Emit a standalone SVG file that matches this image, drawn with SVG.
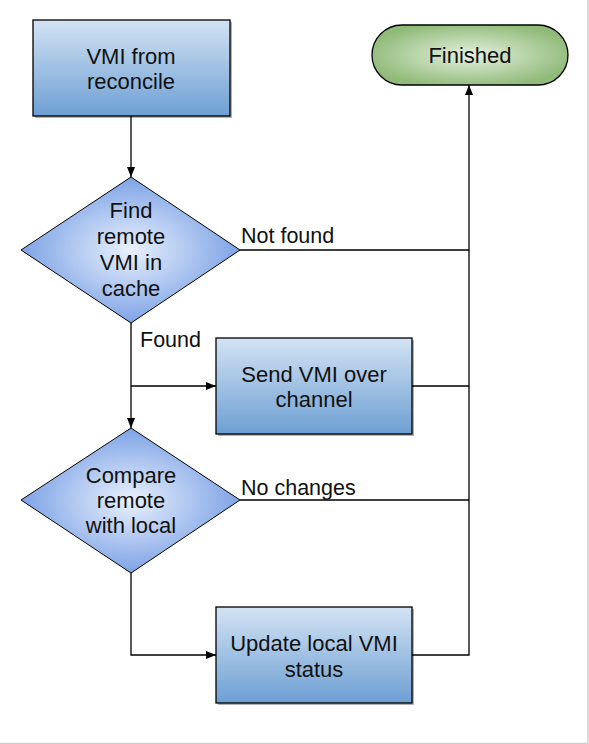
<svg xmlns="http://www.w3.org/2000/svg" width="589" height="744" viewBox="0 0 589 744">
<defs>
<linearGradient id="gBox" x1="0" y1="0" x2="0" y2="1">
<stop offset="0" stop-color="#d3e3f4"/>
<stop offset="1" stop-color="#6d9fd3"/>
</linearGradient>
<radialGradient id="gDia" cx="0.5" cy="0.5" r="0.5">
<stop offset="0" stop-color="#e9f1fd"/>
<stop offset="1" stop-color="#7ea3e6"/>
</radialGradient>
<radialGradient id="gFin" cx="0.5" cy="0.5" r="0.55">
<stop offset="0" stop-color="#e6f0df"/>
<stop offset="1" stop-color="#8fba78"/>
</radialGradient>
<marker id="arr" viewBox="0 0 10 10" refX="10" refY="5" markerWidth="10" markerHeight="10" markerUnits="userSpaceOnUse" orient="auto">
<path d="M0,1 L10,5 L0,9 z" fill="#000"/>
</marker>
</defs>
<style>
.box{fill:url(#gBox);stroke:#000;stroke-width:1.3}
.dia{fill:url(#gDia);stroke:#000;stroke-width:1}
.fin{fill:url(#gFin);stroke:#000;stroke-width:1.3}
.sh{fill:#000;opacity:0.3}
text{font-family:"Liberation Sans",Arial,sans-serif;font-size:22px;fill:#111;text-anchor:middle}
.lbl{text-anchor:start;font-size:21.5px}
.c{fill:none;stroke:#000;stroke-width:1.3}
</style>
<rect x="0" y="0" width="589" height="744" fill="#fff"/>
<path d="M588,0 V743.5 H0" fill="none" stroke="#d0d0d0" stroke-width="1.5"/>
<g id="connectors">
<path class="c" d="M131,116 V177" marker-end="url(#arr)"/>
<path class="c" d="M131,323 V428" marker-end="url(#arr)"/>
<path class="c" d="M131,386 H216" marker-end="url(#arr)"/>
<path class="c" d="M131,573 V655 H216" marker-end="url(#arr)"/>
<path class="c" d="M240,250 H469"/>
<path class="c" d="M412,386 H469"/>
<path class="c" d="M240,500 H469"/>
<path class="c" d="M412,655 H469 V85" marker-end="url(#arr)"/>
<text class="lbl" x="241" y="243">Not found</text>
<text class="lbl" x="140" y="347">Found</text>
<text class="lbl" x="241" y="495">No changes</text>
</g>
<g id="reconcile">
<rect class="sh" x="35" y="22" width="197" height="96"/>
<rect class="box" x="33" y="20" width="197" height="96"/>
<text x="131" y="64">VMI from</text>
<text x="131" y="89">reconcile</text>
</g>
<g id="finished">
<rect class="fin" x="372" y="25" width="196" height="60" rx="30" ry="30"/>
<text x="470" y="63">Finished</text>
</g>
<g id="find">
<polygon class="dia" points="131,177 240,250 131,323 21,250"/>
<text x="131" y="218">Find</text>
<text x="131" y="244">remote</text>
<text x="131" y="270">VMI in</text>
<text x="131" y="296">cache</text>
</g>
<g id="send">
<rect class="sh" x="218" y="340" width="196" height="96"/>
<rect class="box" x="216" y="338" width="196" height="96"/>
<text x="314" y="382">Send VMI over</text>
<text x="314" y="407">channel</text>
</g>
<g id="compare">
<polygon class="dia" points="131,428 240,500 131,573 21,500"/>
<text x="131" y="483">Compare</text>
<text x="131" y="508">remote</text>
<text x="131" y="533">with local</text>
</g>
<g id="update">
<rect class="sh" x="218" y="609" width="196" height="96"/>
<rect class="box" x="216" y="607" width="196" height="96"/>
<text x="314" y="651">Update local VMI</text>
<text x="314" y="677">status</text>
</g>
</svg>
